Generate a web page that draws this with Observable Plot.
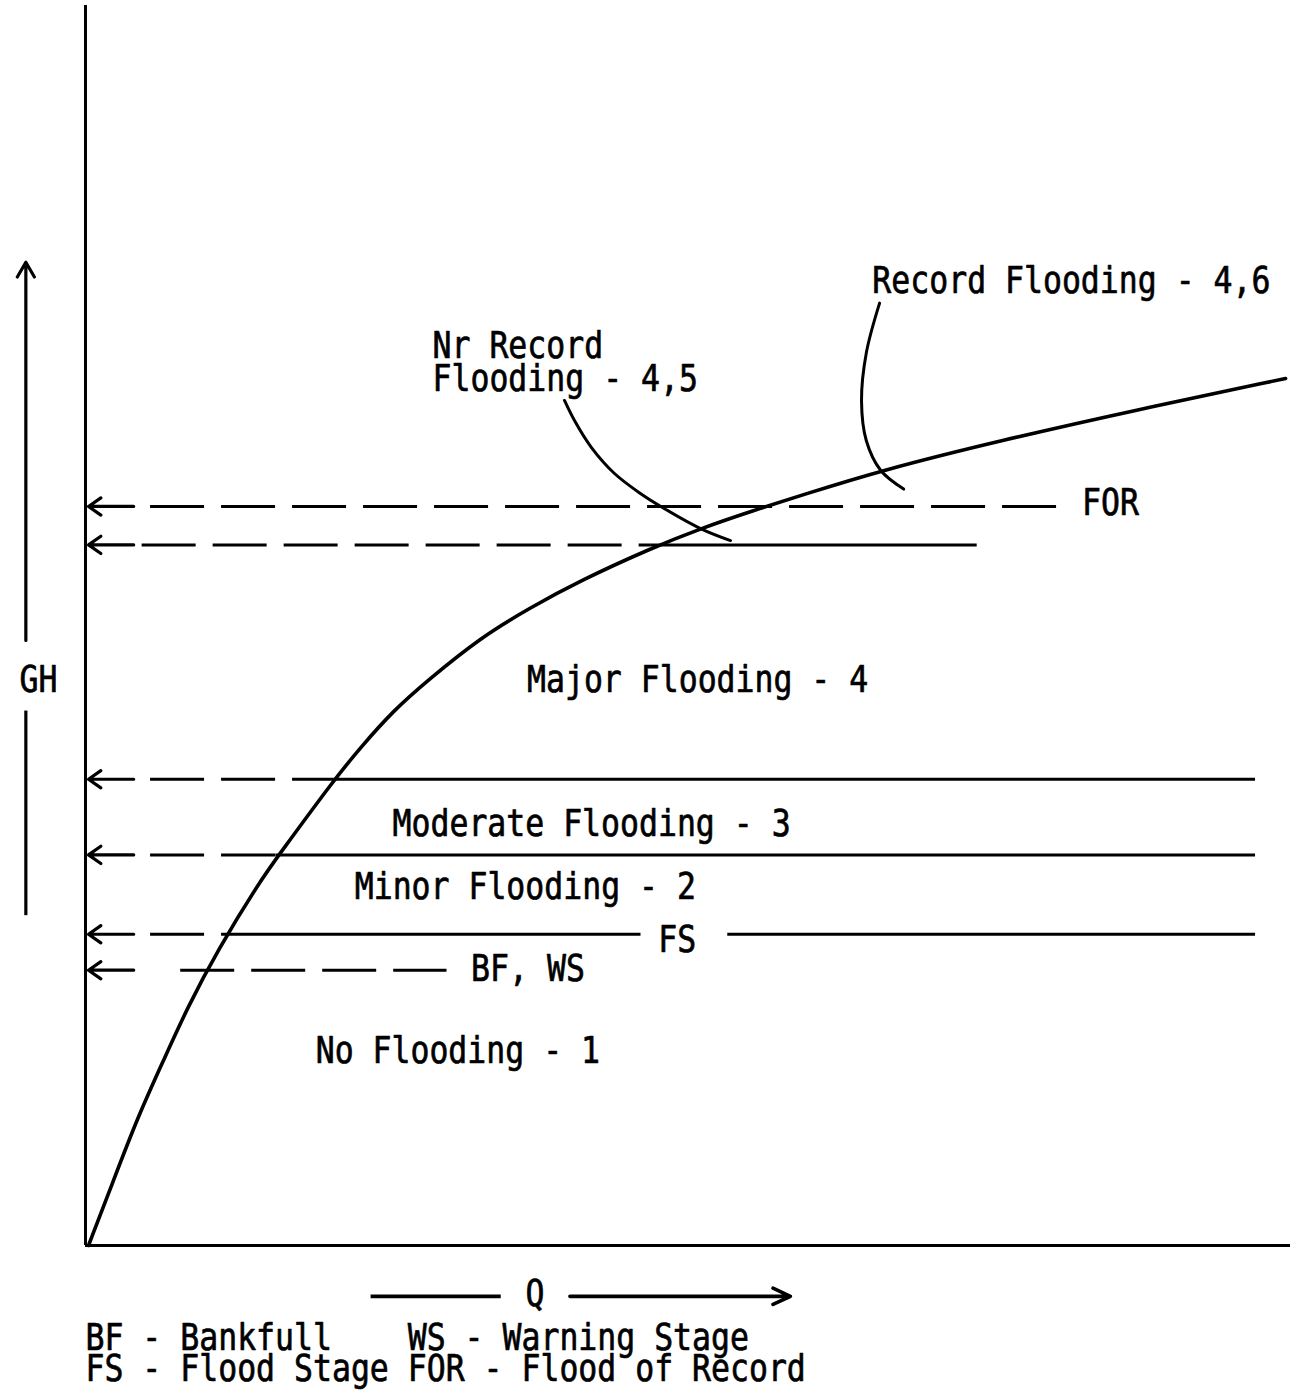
<!DOCTYPE html>
<html><head><meta charset="utf-8">
<script src="https://cdn.jsdelivr.net/npm/d3@7"></script>
<script src="https://cdn.jsdelivr.net/npm/@observablehq/plot@0.6"></script>
<style>body{margin:0;background:#fff}</style>
</head><body><div id="chart"></div>
<script>
// Rating curve (Q = discharge, GH = gage height), schematic units 0..100
const ratingQ  = [0.25, 2.32, 4.32, 6.47, 8.46, 10.95, 14.52, 16.02, 20.58, 22.82, 25.56, 28.38, 32.78, 36.93, 41.08, 46.89, 51.04, 55.44, 59.34, 65.98, 75.93, 86.97, 99.59];
const ratingGH = [0,    5.24, 10.32, 14.92, 19.19, 23.79, 29.44, 31.45, 37.5, 40.16, 43.15, 45.56, 49.03, 51.45, 53.63, 56.21, 57.82, 59.27, 60.48, 62.5, 64.92, 67.34, 69.92];

// Stage levels: FOR, near record, major, moderate, flood stage, bankfull/warning
const levelNames     = ["FOR", "NR", "MAJOR", "MODERATE", "FS", "BF"];
const levelGH        = [59.6, 56.5, 37.6, 31.5, 25.1, 22.2];
const levelDashStart = [5.4, 4.7, 5.4, 5.4, 5.4, 7.9];
const levelDashEnd   = [80.9, 46.9, 20.7, 15.8, 11.9, 30.0];
const solidStartQ    = [46.9, 20.7, 15.8, 11.9, 53.3];
const solidEndQ      = [74.0, 97.1, 97.1, 46.1, 97.1];
const solidGH        = [56.5, 37.6, 31.5, 25.1, 25.1];

// Region labels (centred)
const regionLabels = ["Major Flooding - 4", "Moderate Flooding - 3", "Minor Flooding - 2", "No Flooding - 1", "FS"];
const regionQ      = [50.8, 42.0, 36.5, 30.9, 49.1];
const regionGH     = [45.6, 34.0, 28.9, 15.7, 24.6];

// Start-anchored labels
const noteLabels = ["FOR", "BF, WS", "Record Flooding - 4,6", "Nr Record\nFlooding - 4,5"];
const noteQ      = [82.7, 32.0, 65.3, 28.8];
const noteGH     = [59.8, 22.2, 77.7, 71.1];

// Legend
const legendText = "BF - Bankfull    WS - Warning Stage\nFS - Flood Stage FOR - Flood of Record";

// Leader curves
const recLeaderQ  = [65.9, 64.8, 64.4, 64.8, 66.0, 67.9];
const recLeaderGH = [76.0, 72.0, 68.1, 64.9, 62.5, 61.0];
const nrLeaderQ   = [39.75, 40.58, 41.99, 43.90, 46.05, 47.88, 51.04, 53.53];
const nrLeaderGH  = [68.15, 66.53, 64.35, 62.26, 60.65, 59.52, 57.82, 56.85];

const rating = ratingQ.map((q, i) => ({q, gh: ratingGH[i]}));
const levels = levelNames.map((n, i) => ({n, gh: levelGH[i], start: levelDashStart[i], end: levelDashEnd[i]}));
const solids = solidGH.map((gh, i) => ({gh, x1: solidStartQ[i], x2: solidEndQ[i]}));
const regions = regionLabels.map((t, i) => ({t, q: regionQ[i], gh: regionGH[i]}));
const notes = noteLabels.map((t, i) => ({t, q: noteQ[i], gh: noteGH[i]}));
const recLeader = recLeaderQ.map((q, i) => ({q, gh: recLeaderGH[i]}));
const nrLeader = nrLeaderQ.map((q, i) => ({q, gh: nrLeaderGH[i]}));

const font = "DejaVu Sans Mono";
const fs = 31.5;
const sw = 3;
const txt = {fontSize: fs, fill: "black", stroke: "black", strokeWidth: 0.6};

const chart = Plot.plot({
  width: 1299, height: 1391,
  marginLeft: 85, marginRight: 9, marginTop: 5, marginBottom: 146,
  x: {domain: [0, 100], axis: null},
  y: {domain: [0, 100], axis: null},
  style: {fontFamily: font, background: "#fff", whiteSpace: "pre"},
  marks: [
    // axes
    Plot.ruleX([0], {y1: 0, y2: 100, stroke: "black", strokeWidth: sw}),
    Plot.ruleY([0], {x1: 0, x2: 100, stroke: "black", strokeWidth: sw}),
    // dashed levels
    Plot.ruleY(levels, {y: "gh", x1: "start", x2: "end", stroke: "black", strokeWidth: sw, strokeDasharray: "54,17"}),
    Plot.arrow(levels, {x1: () => 4.0, x2: () => 0.25, y1: "gh", y2: "gh", stroke: "black", strokeWidth: 3.2, headAngle: 70, headLength: 8}),
    // solid levels
    Plot.ruleY(solids, {y: "gh", x1: "x1", x2: "x2", stroke: "black", strokeWidth: sw}),
    // rating curve
    Plot.line(rating, {x: "q", y: "gh", curve: "basis", stroke: "black", strokeWidth: 3.6}),
    // leaders
    Plot.line(recLeader, {x: "q", y: "gh", curve: "catmull-rom", stroke: "black", strokeWidth: 3}),
    Plot.line(nrLeader, {x: "q", y: "gh", curve: "catmull-rom", stroke: "black", strokeWidth: 3}),
    // GH axis arrow
    Plot.arrow([{q: -4.95, a: 48.8, b: 79.3}], {x1: "q", x2: "q", y1: "a", y2: "b", stroke: "black", strokeWidth: 3.2, headAngle: 60, headLength: 8}),
    Plot.ruleX([{q: -4.95, a: 26.6, b: 43.1}], {x: "q", y1: "a", y2: "b", stroke: "black", strokeWidth: 3.2}),
    Plot.text([{t: "GH", q: -3.9, gh: 45.6}], {x: "q", y: "gh", text: "t", ...txt}),
    // Q axis arrow
    Plot.ruleY([{gh: -4.1, a: 23.7, b: 34.5}], {y: "gh", x1: "a", x2: "b", stroke: "black", strokeWidth: 3.6}),
    Plot.arrow([{gh: -4.1, a: 40.2, b: 58.5}], {y1: "gh", y2: "gh", x1: "a", x2: "b", stroke: "black", strokeWidth: 3.6, headAngle: 50, headLength: 8}),
    Plot.text([{t: "Q", q: 37.3, gh: -3.9}], {x: "q", y: "gh", text: "t", ...txt}),
    // labels
    Plot.text(regions, {x: "q", y: "gh", text: "t", ...txt}),
    Plot.text(notes, {x: "q", y: "gh", text: "t", textAnchor: "start", lineHeight: 0.895, ...txt}),
    Plot.text([{t: legendText, q: 0, gh: -8.85}], {x: "q", y: "gh", text: "t", textAnchor: "start", lineHeight: 0.84, ...txt})
  ]
});

// tall, narrow plotter-style lettering
chart.querySelectorAll("text").forEach(t => {
  const tr = t.getAttribute("transform");
  if (tr) t.setAttribute("transform", tr + " scale(1,1.17)");
  else {
    const x = t.getAttribute("x") || 0, y = t.getAttribute("y") || 0;
    t.removeAttribute("x"); t.removeAttribute("y");
    t.setAttribute("transform", `translate(${x},${y}) scale(1,1.17)`);
  }
});
document.getElementById("chart").appendChild(chart);
</script>
</body></html>
